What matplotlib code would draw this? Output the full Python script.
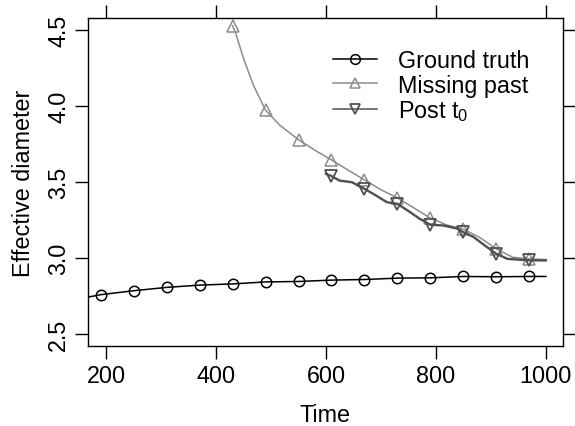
import matplotlib
matplotlib.use("Agg")
import matplotlib.pyplot as plt

plt.rcParams["font.family"] = ["Liberation Sans", "DejaVu Sans"]
plt.rcParams["mathtext.fontset"] = "custom"
plt.rcParams["mathtext.rm"] = "Liberation Sans"
plt.rcParams["mathtext.default"] = "regular"

# ground truth (dense line, circles every 60)
truth_t = [160, 190, 250, 310, 370, 430, 490, 550, 610, 670, 730, 790, 850, 910, 970, 1000]
truth_v = [2.738, 2.759, 2.785, 2.807, 2.822, 2.830, 2.843, 2.846, 2.855, 2.859,
           2.868, 2.870, 2.879, 2.877, 2.879, 2.879]

# missing past
miss_t = [430, 435, 450, 468, 490, 516, 550, 580, 610, 640, 670, 700, 730, 760,
          790, 820, 850, 880, 910, 940, 970, 1000]
miss_v = [4.53, 4.49, 4.314, 4.138, 3.974, 3.875, 3.78, 3.71, 3.647, 3.58, 3.515,
          3.45, 3.397, 3.33, 3.263, 3.218, 3.19, 3.135, 3.06, 3.005, 2.995, 2.99]

# post t0
post_t = [600, 610, 625, 647, 670, 686, 711, 730, 750, 770, 790, 813, 838, 850,
          868, 890, 910, 930, 950, 970, 1000]
post_v = [3.555, 3.54, 3.51, 3.50, 3.456, 3.423, 3.368, 3.357, 3.31, 3.26, 3.219,
          3.215, 3.195, 3.17, 3.14, 3.08, 3.028, 2.995, 2.99, 2.985, 2.985]

truth_marks = [t in range(190, 1000, 60) for t in truth_t]
miss_marks = [t in range(430, 1000, 60) for t in miss_t]
post_marks = [t in range(610, 1000, 60) for t in post_t]

FS = 16.8

fig = plt.figure(figsize=(5.75, 4.27), dpi=100)
ax = fig.add_axes([0.153, 0.187, 0.826, 0.768])

ax.plot(truth_t, truth_v, color="black", lw=1.1, marker="o", ms=7.5,
        mfc="none", mec="black", mew=1.1, markevery=truth_marks, label="Ground truth")
ax.plot(miss_t, miss_v, color="#8c8c8c", lw=1.1, marker="^", ms=8,
        mfc="none", mec="#8c8c8c", mew=1.1, markevery=miss_marks, label="Missing past")
ax.plot(post_t, post_v, color="#505050", lw=1.7, marker="v", ms=8,
        mfc="none", mec="#505050", mew=1.3, markevery=post_marks, label="Post t$_0$")

ax.set_xlim(167, 1031)
ax.set_ylim(2.42, 4.58)
ax.set_xticks([200, 400, 600, 800, 1000])
ax.set_yticks([2.5, 3.0, 3.5, 4.0, 4.5])
ax.set_yticklabels(["2.5", "3.0", "3.5", "4.0", "4.5"], rotation=90, va="center")
ax.tick_params(direction="out", length=9.7, width=1, labelsize=FS, pad=3,
               top=True, right=True, labeltop=False, labelright=False)
for s in ax.spines.values():
    s.set_linewidth(1)

ax.set_xlabel("Time", fontsize=FS, labelpad=12)
ax.set_ylabel("Effective diameter", fontsize=FS, labelpad=9)

leg = ax.legend(loc="center left", bbox_to_anchor=(0.516, 0.793), frameon=False,
                fontsize=FS, handlelength=1.9, handletextpad=0.9, labelspacing=0.05,
                borderaxespad=0, borderpad=0)
for h in leg.legend_handles:
    h.set_linewidth(1.1)
    h.set_markersize(7)

fig.savefig("out.png", dpi=100)
